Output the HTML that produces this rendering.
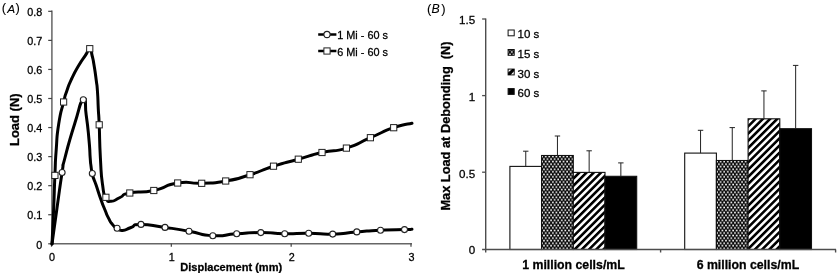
<!DOCTYPE html>
<html><head><meta charset="utf-8"><title>Figure</title>
<style>html,body{margin:0;padding:0;background:#fff}body{width:837px;height:273px;overflow:hidden;font-family:"Liberation Sans",sans-serif}svg{filter:blur(0.4px)}svg text{stroke:#000;stroke-width:0.28px}</style></head>
<body>
<svg width="837" height="273" viewBox="0 0 837 273" style="display:block">
<defs>
<pattern id="chk" width="3.57" height="5.1" patternUnits="userSpaceOnUse" x="541.2" y="155.2">
<rect width="3.57" height="5.1" fill="#0a0a0a"/>
<rect x="0.1" y="0.45" width="1.7" height="1.7" rx="0.5" fill="#fff"/>
<rect x="1.885" y="3.0" width="1.7" height="1.7" rx="0.5" fill="#fff"/>
</pattern>
<pattern id="dia" width="5.1" height="5.1" patternUnits="userSpaceOnUse" patternTransform="rotate(-45)">
<rect width="5.1" height="5.1" fill="#fff"/>
<rect width="5.1" height="2.6" fill="#000"/>
</pattern>
</defs>
<rect width="837" height="273" fill="#fff"/>
<g font-family="Liberation Sans, sans-serif" fill="#000">
<path d="M51.9,10.6 V244.4 M51.4,243.75 H412" stroke="#666" stroke-width="1.5" fill="none"/>
<path d="M48.2,243.80 H52" stroke="#444" stroke-width="1.2"/>
<text x="42.3" y="248.50" font-size="10.8" text-anchor="end">0</text>
<path d="M48.2,214.74 H52" stroke="#444" stroke-width="1.2"/>
<text x="42.3" y="219.44" font-size="10.8" text-anchor="end">0.1</text>
<path d="M48.2,185.68 H52" stroke="#444" stroke-width="1.2"/>
<text x="42.3" y="190.38" font-size="10.8" text-anchor="end">0.2</text>
<path d="M48.2,156.62 H52" stroke="#444" stroke-width="1.2"/>
<text x="42.3" y="161.32" font-size="10.8" text-anchor="end">0.3</text>
<path d="M48.2,127.56 H52" stroke="#444" stroke-width="1.2"/>
<text x="42.3" y="132.26" font-size="10.8" text-anchor="end">0.4</text>
<path d="M48.2,98.50 H52" stroke="#444" stroke-width="1.2"/>
<text x="42.3" y="103.20" font-size="10.8" text-anchor="end">0.5</text>
<path d="M48.2,69.44 H52" stroke="#444" stroke-width="1.2"/>
<text x="42.3" y="74.14" font-size="10.8" text-anchor="end">0.6</text>
<path d="M48.2,40.38 H52" stroke="#444" stroke-width="1.2"/>
<text x="42.3" y="45.08" font-size="10.8" text-anchor="end">0.7</text>
<path d="M48.2,11.32 H52" stroke="#444" stroke-width="1.2"/>
<text x="42.3" y="16.02" font-size="10.8" text-anchor="end">0.8</text>
<path d="M51.50,243.5 V246.7" stroke="#444" stroke-width="1.2"/>
<text x="52.00" y="260.8" font-size="10.8" text-anchor="middle">0</text>
<path d="M171.33,243.5 V246.7" stroke="#444" stroke-width="1.2"/>
<text x="171.83" y="260.8" font-size="10.8" text-anchor="middle">1</text>
<path d="M291.16,243.5 V246.7" stroke="#444" stroke-width="1.2"/>
<text x="291.66" y="260.8" font-size="10.8" text-anchor="middle">2</text>
<path d="M410.99,243.5 V246.7" stroke="#444" stroke-width="1.2"/>
<text x="411.49" y="260.8" font-size="10.8" text-anchor="middle">3</text>
<text x="231.2" y="270.6" font-size="11.06" font-weight="bold" text-anchor="middle" id="dispA">Displacement (mm)</text>
<text transform="translate(18.8,119.7) rotate(-90)" font-size="13" font-weight="bold" text-anchor="middle" id="loadA">Load (N)</text>
<text y="12.3" font-size="13" id="labA" style="stroke-width:0.1px"><tspan x="1.8">(</tspan><tspan x="7.2" y="12.5" font-size="11.8" font-style="italic">A</tspan><tspan x="15.6" y="12.3">)</tspan></text>
<path d="M52.00,244.00 C53.67,232.00 53.63,231.83 57.00,208.00 C60.37,184.17 59.47,189.17 62.10,172.50 C64.73,155.83 60.73,174.17 64.90,158.00 C69.07,141.83 68.47,143.43 74.60,124.00 C80.73,104.57 79.43,102.70 83.30,99.70 C87.17,96.70 84.30,101.57 86.20,115.00 C88.10,128.43 87.67,125.67 89.00,140.00 C90.33,154.33 89.53,149.33 90.20,158.00 C90.87,166.67 90.33,160.80 91.00,166.00 C91.67,171.20 91.20,169.07 92.20,173.60 C93.20,178.13 92.73,175.87 94.00,179.60 C95.27,183.33 93.67,178.07 96.00,184.80 C98.33,191.53 98.00,191.40 101.00,199.80 C104.00,208.20 102.53,203.97 105.00,210.00 C107.47,216.03 105.87,213.03 108.40,217.90 C110.93,222.77 109.70,221.13 112.60,224.60 C115.50,228.07 113.80,226.37 117.10,228.30 C120.40,230.23 117.87,230.67 122.50,230.40 C127.13,230.13 124.83,229.50 131.00,227.50 C137.17,225.50 129.67,224.43 141.00,224.40 C152.33,224.37 149.00,225.13 165.00,227.40 C181.00,229.67 173.07,228.43 189.00,231.20 C204.93,233.97 196.90,234.83 212.80,235.70 C228.70,236.57 220.70,234.83 236.70,233.80 C252.70,232.77 244.80,232.63 260.80,232.60 C276.80,232.57 268.73,233.50 284.70,233.70 C300.67,233.90 292.70,233.07 308.70,233.20 C324.70,233.33 316.67,234.53 332.70,234.10 C348.73,233.67 340.87,233.20 356.80,231.90 C372.73,230.60 364.60,230.97 380.50,230.20 C396.40,229.43 394.00,229.90 404.50,229.60 C415.00,229.30 409.50,229.40 412.00,229.30" stroke="#000" stroke-width="3.0" fill="none" stroke-linejoin="round" stroke-linecap="round"/>
<path d="M52.00,244.00 C52.53,232.67 52.63,232.87 53.60,210.00 C54.57,187.13 54.03,195.40 54.90,175.40 C55.77,155.40 54.93,167.13 56.20,150.00 C57.47,132.87 56.23,139.93 58.70,124.00 C61.17,108.07 60.93,113.10 63.60,102.20 C66.27,91.30 63.97,99.20 66.70,91.30 C69.43,83.40 67.80,87.07 71.80,78.50 C75.80,69.93 74.17,73.30 78.70,65.60 C83.23,57.90 81.72,61.00 85.40,55.40 C89.08,49.80 87.48,48.60 89.75,48.80 C92.02,49.00 90.75,50.40 92.20,56.00 C93.65,61.60 92.77,57.60 94.10,65.60 C95.43,73.60 95.07,71.20 96.20,80.00 C97.33,88.80 96.80,82.33 97.50,92.00 C98.20,101.67 97.73,98.07 98.30,109.00 C98.87,119.93 98.50,108.47 99.20,124.80 C99.90,141.13 99.27,137.93 100.40,158.00 C101.53,178.07 100.77,171.90 102.60,185.00 C104.43,198.10 103.13,191.87 105.90,197.30 C108.67,202.73 106.20,201.23 110.90,201.30 C115.60,201.37 113.70,200.27 120.00,197.50 C126.30,194.73 118.53,195.33 129.80,193.00 C141.07,190.67 137.83,193.83 153.80,190.50 C169.77,187.17 161.73,185.40 177.70,183.00 C193.67,180.60 185.70,183.97 201.70,183.30 C217.70,182.63 209.60,183.87 225.70,181.00 C241.80,178.13 234.07,179.63 250.00,174.70 C265.93,169.77 257.40,171.37 273.50,166.20 C289.60,161.03 282.13,163.77 298.30,159.20 C314.47,154.63 305.97,156.20 322.00,152.50 C338.03,148.80 330.27,153.03 346.40,148.10 C362.53,143.17 354.63,144.50 370.40,137.70 C386.17,130.90 379.83,132.50 393.70,127.70 C407.57,122.90 405.90,124.77 412.00,123.30" stroke="#000" stroke-width="3.0" fill="none" stroke-linejoin="round" stroke-linecap="round"/>
<circle cx="62.1" cy="172.5" r="3.0" fill="#fff" stroke="#222" stroke-width="1.1"/>
<circle cx="83.3" cy="99.7" r="3.0" fill="#fff" stroke="#222" stroke-width="1.1"/>
<circle cx="92.3" cy="173.5" r="3.0" fill="#fff" stroke="#222" stroke-width="1.1"/>
<circle cx="117.1" cy="228.3" r="3.0" fill="#fff" stroke="#222" stroke-width="1.1"/>
<circle cx="141" cy="224.4" r="3.0" fill="#fff" stroke="#222" stroke-width="1.1"/>
<circle cx="165" cy="227.4" r="3.0" fill="#fff" stroke="#222" stroke-width="1.1"/>
<circle cx="189" cy="231.2" r="3.0" fill="#fff" stroke="#222" stroke-width="1.1"/>
<circle cx="212.8" cy="235.7" r="3.0" fill="#fff" stroke="#222" stroke-width="1.1"/>
<circle cx="236.7" cy="233.8" r="3.0" fill="#fff" stroke="#222" stroke-width="1.1"/>
<circle cx="260.8" cy="232.6" r="3.0" fill="#fff" stroke="#222" stroke-width="1.1"/>
<circle cx="284.7" cy="233.7" r="3.0" fill="#fff" stroke="#222" stroke-width="1.1"/>
<circle cx="308.7" cy="233.2" r="3.0" fill="#fff" stroke="#222" stroke-width="1.1"/>
<circle cx="332.7" cy="234.1" r="3.0" fill="#fff" stroke="#222" stroke-width="1.1"/>
<circle cx="356.8" cy="231.9" r="3.0" fill="#fff" stroke="#222" stroke-width="1.1"/>
<circle cx="380.5" cy="230.2" r="3.0" fill="#fff" stroke="#222" stroke-width="1.1"/>
<circle cx="404.5" cy="229.6" r="3.0" fill="#fff" stroke="#222" stroke-width="1.1"/>
<rect x="51.80" y="172.30" width="6.2" height="6.2" fill="#fff" stroke="#222" stroke-width="1"/>
<rect x="60.50" y="98.90" width="6.2" height="6.2" fill="#fff" stroke="#222" stroke-width="1"/>
<rect x="86.65" y="45.60" width="6.2" height="6.2" fill="#fff" stroke="#222" stroke-width="1"/>
<rect x="96.10" y="121.70" width="6.2" height="6.2" fill="#fff" stroke="#222" stroke-width="1"/>
<rect x="102.80" y="194.20" width="6.2" height="6.2" fill="#fff" stroke="#222" stroke-width="1"/>
<rect x="126.70" y="189.90" width="6.2" height="6.2" fill="#fff" stroke="#222" stroke-width="1"/>
<rect x="150.70" y="187.40" width="6.2" height="6.2" fill="#fff" stroke="#222" stroke-width="1"/>
<rect x="174.60" y="179.90" width="6.2" height="6.2" fill="#fff" stroke="#222" stroke-width="1"/>
<rect x="198.60" y="180.20" width="6.2" height="6.2" fill="#fff" stroke="#222" stroke-width="1"/>
<rect x="222.60" y="177.90" width="6.2" height="6.2" fill="#fff" stroke="#222" stroke-width="1"/>
<rect x="246.90" y="171.60" width="6.2" height="6.2" fill="#fff" stroke="#222" stroke-width="1"/>
<rect x="270.40" y="163.10" width="6.2" height="6.2" fill="#fff" stroke="#222" stroke-width="1"/>
<rect x="295.20" y="156.10" width="6.2" height="6.2" fill="#fff" stroke="#222" stroke-width="1"/>
<rect x="318.90" y="149.40" width="6.2" height="6.2" fill="#fff" stroke="#222" stroke-width="1"/>
<rect x="343.30" y="145.00" width="6.2" height="6.2" fill="#fff" stroke="#222" stroke-width="1"/>
<rect x="367.30" y="134.60" width="6.2" height="6.2" fill="#fff" stroke="#222" stroke-width="1"/>
<rect x="390.60" y="124.60" width="6.2" height="6.2" fill="#fff" stroke="#222" stroke-width="1"/>
<path d="M318.2,34.5 H336.4 M318.2,51 H336.4" stroke="#000" stroke-width="2.5"/>
<circle cx="327" cy="34.5" r="3.1" fill="#fff" stroke="#222" stroke-width="1.1"/>
<rect x="323.9" y="47.9" width="6.2" height="6.2" fill="#fff" stroke="#222" stroke-width="1"/>
<text x="337.2" y="38.9" font-size="10.9" id="lg1">1 Mi - 60 s</text>
<text x="337.2" y="55.5" font-size="10.9" id="lg2">6 Mi - 60 s</text>
</g>
<g font-family="Liberation Sans, sans-serif" fill="#000">
<rect x="509.90" y="166.4" width="31.7" height="83.10" fill="#fff" stroke="#111" stroke-width="1.1"/>
<path d="M525.75,166.4 V151.2 M523.05,151.2 H528.45" stroke="#222" stroke-width="1" fill="none"/>
<rect x="541.60" y="155.5" width="31.7" height="94.00" fill="url(#chk)" stroke="#111" stroke-width="1.1"/>
<path d="M557.45,155.5 V136 M554.75,136 H560.15" stroke="#222" stroke-width="1" fill="none"/>
<rect x="573.30" y="172.4" width="31.7" height="77.10" fill="url(#dia)" stroke="#111" stroke-width="1.1"/>
<path d="M589.15,172.4 V150.8 M586.45,150.8 H591.85" stroke="#222" stroke-width="1" fill="none"/>
<rect x="605.00" y="176.3" width="31.7" height="73.20" fill="#000" stroke="#111" stroke-width="1.1"/>
<path d="M620.85,176.3 V162.9 M618.15,162.9 H623.55" stroke="#222" stroke-width="1" fill="none"/>
<rect x="684.70" y="153.1" width="31.7" height="96.40" fill="#fff" stroke="#111" stroke-width="1.1"/>
<path d="M700.55,153.1 V130.3 M697.85,130.3 H703.25" stroke="#222" stroke-width="1" fill="none"/>
<rect x="716.40" y="160.5" width="31.7" height="89.00" fill="url(#chk)" stroke="#111" stroke-width="1.1"/>
<path d="M732.25,160.5 V127.6 M729.55,127.6 H734.95" stroke="#222" stroke-width="1" fill="none"/>
<rect x="748.10" y="118.8" width="31.7" height="130.70" fill="url(#dia)" stroke="#111" stroke-width="1.1"/>
<path d="M763.95,118.8 V90.9 M761.25,90.9 H766.65" stroke="#222" stroke-width="1" fill="none"/>
<rect x="779.80" y="128.7" width="31.7" height="120.80" fill="#000" stroke="#111" stroke-width="1.1"/>
<path d="M795.65,128.7 V65.4 M792.95,65.4 H798.35" stroke="#222" stroke-width="1" fill="none"/>
<path d="M485.7,18.4 V252.5 M482.09999999999997,249.5 H836 M660.6,249.5 V252.5 M835.6,249.5 V252.5" stroke="#4d4d4d" stroke-width="1.4" fill="none"/>
<text x="475.2" y="254.20" font-size="11.6" text-anchor="end">0</text>
<path d="M482.09999999999997,172.20 H485.7" stroke="#4d4d4d" stroke-width="1.3"/>
<text x="475.2" y="177.60" font-size="11.6" text-anchor="end">0.5</text>
<path d="M482.09999999999997,95.60 H485.7" stroke="#4d4d4d" stroke-width="1.3"/>
<text x="475.2" y="101.00" font-size="11.6" text-anchor="end">1</text>
<path d="M482.09999999999997,19.00 H485.7" stroke="#4d4d4d" stroke-width="1.3"/>
<text x="475.2" y="24.40" font-size="11.6" text-anchor="end">1.5</text>
<text x="573.5" y="268.6" font-size="12.3" font-weight="bold" text-anchor="middle" id="c1">1 million cells/mL</text>
<text x="747.9" y="268.6" font-size="12.3" font-weight="bold" text-anchor="middle" id="c6">6 million cells/mL</text>
<text transform="translate(449.6,126) rotate(-90)" font-size="12.8" font-weight="bold" text-anchor="middle" id="maxB" xml:space="preserve">Max Load at Debonding  (N)</text>
<text y="12.6" font-size="13" id="labB" style="stroke-width:0.1px"><tspan x="427.1">(</tspan><tspan x="431.4" y="12.7" font-size="12.3" font-style="italic">B</tspan><tspan x="441.3" y="12.6">)</tspan></text>
<rect x="508.1" y="30.00" width="6.1" height="5.8" fill="#fff" stroke="#111" stroke-width="1"/>
<text x="517.5" y="38.40" font-size="11.5">10 s</text>
<rect x="508.1" y="49.50" width="6.1" height="5.8" fill="url(#chk)" stroke="#111" stroke-width="1"/>
<text x="517.5" y="57.90" font-size="11.5">15 s</text>
<rect x="508.1" y="69.10" width="6.1" height="5.8" fill="#fff" stroke="#111" stroke-width="1"/>
<path d="M508.1,74.90 L508.1,72.60 L512.2,69.10 L514.2,69.10 L514.2,71.10 L510.6,74.90 Z" fill="#000"/>
<text x="517.5" y="77.50" font-size="11.5">30 s</text>
<rect x="508.1" y="88.60" width="6.1" height="5.8" fill="#000" stroke="#111" stroke-width="1"/>
<text x="517.5" y="97.00" font-size="11.5">60 s</text>
</g>
</svg>
</body></html>
